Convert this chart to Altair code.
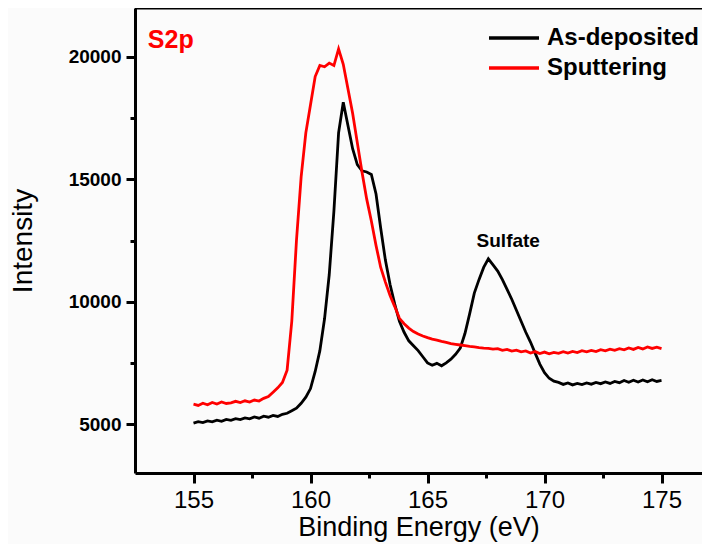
import altair as alt
import pandas as pd

# ---------------- data ----------------
energy = [
    155.0, 155.2, 155.4, 155.6, 155.8, 156.0, 156.2, 156.4, 156.6, 156.8,
    157.0, 157.2, 157.4, 157.6, 157.8, 158.0, 158.2, 158.4, 158.6, 158.8,
    159.0, 159.2, 159.4, 159.6, 159.8, 160.0, 160.2, 160.4, 160.6, 160.8,
    161.0, 161.2, 161.4, 161.6, 161.8, 162.0, 162.2, 162.4, 162.6, 162.8,
    163.0, 163.2, 163.4, 163.6, 163.8, 164.0, 164.2, 164.4, 164.6, 164.8,
    165.0, 165.2, 165.4, 165.6, 165.8, 166.0, 166.2, 166.4, 166.6, 166.8,
    167.0, 167.2, 167.4, 167.6, 167.8, 168.0, 168.2, 168.4, 168.6, 168.8,
    169.0, 169.2, 169.4, 169.6, 169.8, 170.0, 170.2, 170.4, 170.6, 170.8,
    171.0, 171.2, 171.4, 171.6, 171.8, 172.0, 172.2, 172.4, 172.6, 172.8,
    173.0, 173.2, 173.4, 173.6, 173.8, 174.0, 174.2, 174.4, 174.6, 174.8,
    175.0,
]

as_deposited = [
    5040, 5100, 5060, 5130, 5090, 5160, 5110, 5190, 5150, 5220,
    5180, 5250, 5210, 5290, 5240, 5320, 5280, 5350, 5310, 5400,
    5440, 5540, 5650, 5850, 6100, 6450, 7150, 8000, 9300, 11100,
    13700, 16900, 18150, 17200, 16250, 15600, 15350, 15300, 15200, 14400,
    13000, 11700, 10700, 9900, 9200, 8750, 8400, 8200, 8000, 7750,
    7500, 7400, 7480, 7380, 7500, 7650, 7850, 8100, 8700, 9500,
    10350, 10900, 11400, 11750, 11500, 11250, 10900, 10500, 10100, 9650,
    9200, 8750, 8350, 7900, 7450, 7100, 6870, 6750, 6700, 6620,
    6680, 6600, 6660, 6610, 6680, 6630, 6700, 6650, 6720, 6660,
    6740, 6690, 6780, 6710, 6790, 6720, 6800, 6730, 6810, 6740,
    6780,
]

sputtering = [
    5810, 5760, 5850, 5790, 5880, 5820, 5900, 5840, 5870, 5930,
    5880, 5950, 5900, 5980, 5940, 6050, 6120, 6300, 6480, 6700,
    7200, 9200, 12500, 15100, 16900, 18050, 19200, 19650, 19600, 19750,
    19650, 20330, 19700, 18700, 17700, 16500, 15300, 14200, 13300, 12300,
    11400, 10800, 10250, 9800, 9320, 9100, 8920, 8780, 8680, 8600,
    8530, 8470, 8430, 8380, 8340, 8290, 8260, 8230, 8200, 8170,
    8150, 8120, 8100, 8090, 8060, 8080, 8010, 8050, 7980, 8020,
    7950, 7990, 7900, 7960, 7880, 7940, 7870, 7930, 7890, 7960,
    7900, 7970, 7920, 8000, 7950, 8010, 7960, 8040, 7990, 8060,
    8010, 8080, 8030, 8110, 8050, 8130, 8070, 8150, 8090, 8140,
    8080,
]

series_names = ["As-deposited", "Sputtering"]
series_colors = ["#000000", "#ff0000"]

x_major = [155, 160, 165, 170, 175]
x_minor = [157.5, 162.5, 167.5, 172.5]
y_major = [5000, 10000, 15000, 20000]
y_minor = [7500, 12500, 17500]

x_domain = [152.5, 176.73]
y_domain = [3000, 22000]

ann_labels = ["S2p", "Sulfate"]
ann_energy = [153.05, 168.45]
ann_intensity = [20350, 12250]

# ---------------- layout ----------------
W, H = 567, 465
FONT = "Liberation Sans"

n = len(energy)
df = pd.DataFrame({
    "Energy": energy + energy,
    "Intensity": as_deposited + sputtering,
    "Series": [series_names[0]] * n + [series_names[1]] * n,
})

xscale = alt.Scale(domain=x_domain, nice=False, zero=False)
yscale = alt.Scale(domain=y_domain, nice=False, zero=False)

lines = alt.Chart(df).mark_line(strokeWidth=2.8).encode(
    x=alt.X("Energy:Q", scale=xscale,
            axis=alt.Axis(values=x_major, title="Binding Energy (eV)", orient="bottom",
                          format="d", tickSize=10, labelPadding=5,
                          labelFontSize=24, labelFontWeight="normal",
                          titleFontSize=27, titleFontWeight="normal", titlePadding=2)),
    y=alt.Y("Intensity:Q", scale=yscale,
            axis=alt.Axis(values=y_major, title="Intensity", orient="left",
                          format="d", tickSize=9, labelPadding=5,
                          labelFontSize=19, labelFontWeight="bold",
                          titleFontSize=28, titleFontWeight="normal", titlePadding=31)),
    color=alt.Color("Series:N",
                    scale=alt.Scale(domain=series_names, range=series_colors),
                    legend=alt.Legend(title=None, orient="none", legendX=352, legendY=18,
                                      symbolType="stroke", symbolSize=2500,
                                      symbolStrokeWidth=3.5, clipHeight=24,
                                      labelFontSize=24, labelFontWeight="bold",
                                      labelFont=FONT, labelColor="#000000",
                                      labelOffset=6, rowPadding=6, padding=0)),
)

minor = alt.Chart(df).mark_point(opacity=0).encode(
    x=alt.X("Energy:Q", scale=xscale,
            axis=alt.Axis(values=x_minor, title=None, orient="bottom", labels=False,
                          domain=False, tickSize=5)),
    y=alt.Y("Intensity:Q", scale=yscale,
            axis=alt.Axis(values=y_minor, title=None, orient="left", labels=False,
                          domain=False, tickSize=5)),
)

top_border = alt.Chart(pd.DataFrame({"k": [0]})).mark_rule(
    color="#000000", strokeWidth=3
).encode(x=alt.value(0), x2=alt.value(W), y=alt.value(0))

ann_df = pd.DataFrame({"label": ann_labels, "Energy": ann_energy, "Intensity": ann_intensity})

s2p = alt.Chart(ann_df.iloc[[0]]).mark_text(
    align="left", baseline="alphabetic", font=FONT, fontSize=25,
    fontWeight="bold", color="#ff0000"
).encode(
    x=alt.X("Energy:Q", scale=xscale, axis=None),
    y=alt.Y("Intensity:Q", scale=yscale, axis=None),
    text="label:N",
)

sulfate = alt.Chart(ann_df.iloc[[1]]).mark_text(
    align="center", baseline="alphabetic", font=FONT, fontSize=19,
    fontWeight="bold", color="#000000"
).encode(
    x=alt.X("Energy:Q", scale=xscale, axis=None),
    y=alt.Y("Intensity:Q", scale=yscale, axis=None),
    text="label:N",
)

chart = alt.layer(lines, minor, top_border, s2p, sulfate).resolve_axis(
    x="independent", y="independent"
).properties(
    width=W, height=H,
    autosize=alt.AutoSizeParams(type="none"),
    padding={"left": 127, "top": 0, "right": 0, "bottom": 71},
    background="#fbfbfb",
).configure_view(
    stroke=None
).configure_axis(
    domainColor="#000000", domainWidth=3, tickColor="#000000", tickWidth=3,
    grid=False, labelFont=FONT, titleFont=FONT, labelColor="#000000",
    titleColor="#000000",
)

chart.save("out.html", embed_options={"renderer": "svg", "actions": False})
